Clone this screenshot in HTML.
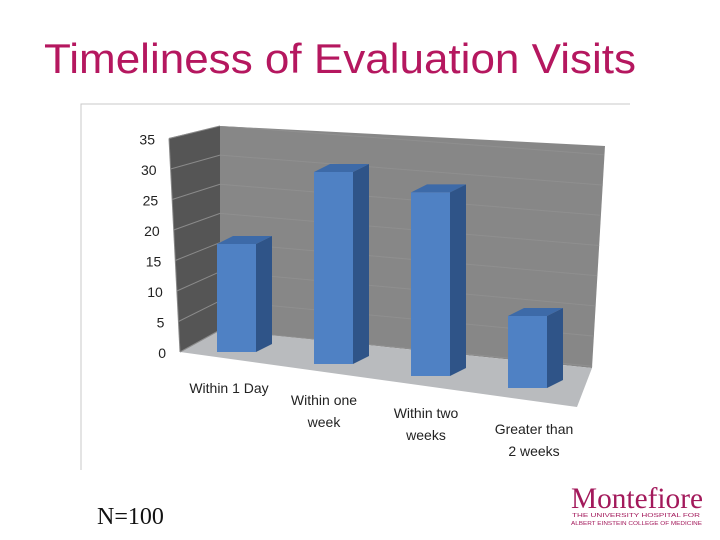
<!DOCTYPE html>
<html><head><meta charset="utf-8"><style>
body{margin:0;width:720px;height:540px;background:#fff;overflow:hidden}
svg{display:block}
</style></head><body>
<svg width="720" height="540" viewBox="0 0 720 540" id="svg">
<text x="44" y="73" font-family="Liberation Sans, sans-serif" font-size="42" fill="#b5175f" textLength="592" lengthAdjust="spacingAndGlyphs">Timeliness of Evaluation Visits</text>
<path d="M81,470 L81,104 L630,104" fill="none" stroke="#c8c8c8" stroke-width="1"/>
<defs><clipPath id="bw"><polygon points="220,126 605,146 592,368 220,330"/></clipPath></defs>
<polygon points="169,138 220,126 220,330 180,352" fill="#555555"/>
<polygon points="220,126 605,146 592,368 220,330" fill="#878787"/>
<polygon points="180,352 220,330 592,368 577,407" fill="#b9bbbe"/>
<g id="grid"></g>
<g id="bgrid" clip-path="url(#bw)"></g>
<g id="bars"></g>
<g id="labels" font-family="Liberation Sans, sans-serif" font-size="14" fill="#222"></g>
<text x="97" y="524" font-family="Liberation Serif, serif" font-size="24" fill="#111">N=100</text>
<g>
<text x="571" y="508" font-family="Liberation Serif, serif" font-size="30" fill="#a3195b" textLength="132" lengthAdjust="spacingAndGlyphs">Montefiore</text>
<text x="572" y="517" font-family="Liberation Sans, sans-serif" font-size="5.5" fill="#a3195b" textLength="128" lengthAdjust="spacingAndGlyphs">THE UNIVERSITY HOSPITAL FOR</text>
<text x="571" y="525" font-family="Liberation Sans, sans-serif" font-size="5.5" fill="#a3195b" textLength="131" lengthAdjust="spacingAndGlyphs">ALBERT EINSTEIN COLLEGE OF MEDICINE</text>
</g>
</svg>
<script>
const categories=[["Within 1 Day"],["Within one","week"],["Within two","weeks"],["Greater than","2 weeks"]];
const values=[18,30,27,10];
const ticks=[0,5,10,15,20,25,30,35];
const NS="http://www.w3.org/2000/svg";
function mk(t,a,p){const e=document.createElementNS(NS,t);for(const k in a)e.setAttribute(k,a[k]);p.appendChild(e);return e;}
function frontY(v){return 352-v*6.1;}
function frontX(v){return 180-v*(11/35);}
function backY(v){return 330-v*5.83;}
function barX(i){return 217+i*97;}
function barBase(i){return 352+i*12;}
function barScale(i){return 6+i*0.4;}
const grid=document.getElementById('grid');
const bgrid=document.getElementById('bgrid');
ticks.forEach(v=>{
 const l=mk('line',{x1:frontX(v),y1:frontY(v),x2:220,y2:backY(v),stroke:'#8a8a8a','stroke-width':1},grid);
 
 
 const bl=mk('line',{x1:220,y1:backY(v),x2:610,y2:backY(v)+38-v*0.25,stroke:'#8f8f8f','stroke-width':1},bgrid);
 
 
 const t=mk('text',{x:frontX(v)-14,y:frontY(v)+6,'text-anchor':'end','font-family':'Liberation Sans, sans-serif','font-size':14,fill:'#222'},grid);
 t.textContent=v;
 
 
});
mk('line',{x1:frontX(0),y1:frontY(0),x2:frontX(35),y2:frontY(35),stroke:'#888'},grid);
const bars=document.getElementById('bars');
const W=39,DX=16,DY=-8;
values.forEach((v,i)=>{
 const x=barX(i),b=barBase(i),h=v*barScale(i),t=b-h;
 const g=mk('g',{},bars);
 
 
 mk('polygon',{points:`${x+W},${t} ${x+W+DX},${t+DY} ${x+W+DX},${b+DY} ${x+W},${b}`,fill:'#2f5488'},g);
 mk('polygon',{points:`${x},${t} ${x+DX},${t+DY} ${x+W+DX},${t+DY} ${x+W},${t}`,fill:'#3d6aa8'},g);
 mk('rect',{x:x,y:t,width:W,height:h,fill:'#4f81c4'},g);
});
const lab=document.getElementById('labels');
const lx=[229,324,426,534],ly=[393,405,418,434];
categories.forEach((c,i)=>{
 const t=mk('text',{x:lx[i],y:ly[i],'text-anchor':'middle'},lab);
 
 
 c.forEach((s,j)=>{const ts=mk('tspan',{x:lx[i],dy:j?22:0},t);ts.textContent=s;});
});
</script>
</body></html>
